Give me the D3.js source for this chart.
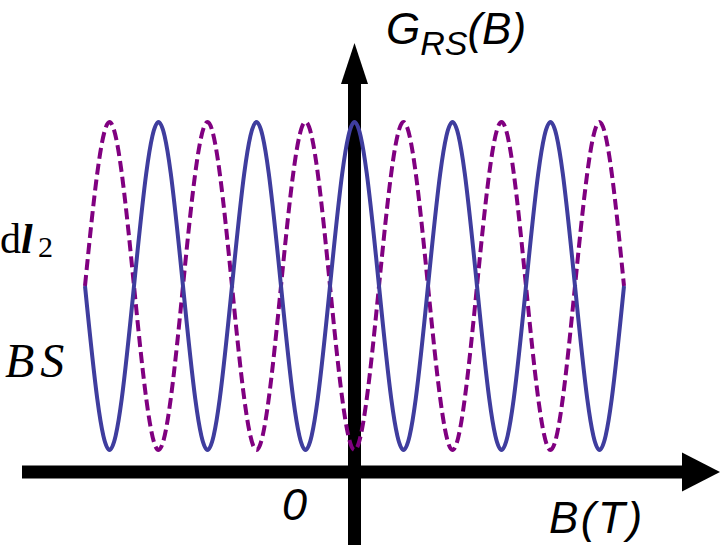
<!DOCTYPE html>
<html>
<head>
<meta charset="utf-8">
<script src="https://cdn.jsdelivr.net/npm/d3@7"></script>
<style>
  html, body { margin: 0; padding: 0; background: #fff; }
  svg { display: block; }
</style>
</head>
<body>
<svg id="chart" width="727" height="545"></svg>
<script>
// Field values B (in oscillation periods) sampled at extrema and zero crossings
const fieldB = [-2.75, -2.5, -2.25, -2, -1.75, -1.5, -1.25, -1, -0.75, -0.5, -0.25, 0,
                0.25, 0.5, 0.75, 1, 1.25, 1.5, 1.75, 2, 2.25, 2.5, 2.75];
// Solid (blue) series, normalised G_RS
const solidG = [0, -1, 0, 1, 0, -1, 0, 1, 0, -1, 0, 1,
                0, -1, 0, 1, 0, -1, 0, 1, 0, -1, 0];
// Dashed (purple) series, normalised G_RS
const dashedG = [0, 1, 0, -1, 0, 1, 0, -1, 0, 1, 0, -1,
                 0, 1, 0, -1, 0, 1, 0, -1, 0, 1, 0];
// Axis labels
const yLabelMain = "G";
const yLabelSub = "RS";
const yLabelTail = "(B)";
const xLabel = "B(T)";
const originLabel = "0";

const svg = d3.select("#chart");

const x = d3.scaleLinear().domain([-2.75, 2.75]).range([85, 624]);
const y = d3.scaleLinear().domain([-1, 1]).range([450, 122]);

const x0 = x(0);
const axisY = 472;

// Horizontal axis with arrow
svg.append("line")
  .attr("x1", 22).attr("x2", 684)
  .attr("y1", axisY).attr("y2", axisY)
  .attr("stroke", "#000").attr("stroke-width", 13);
svg.append("path")
  .attr("d", `M682,${axisY - 19.5} L720,${axisY} L682,${axisY + 19.5} Z`)
  .attr("fill", "#000");

// Vertical axis with arrow
svg.append("line")
  .attr("x1", x0).attr("x2", x0)
  .attr("y1", 545).attr("y2", 82)
  .attr("stroke", "#000").attr("stroke-width", 13);
svg.append("path")
  .attr("d", `M${x0 - 13.5},84 L${x0},43 L${x0 + 13.5},84 Z`)
  .attr("fill", "#000");

const line = d3.line()
  .x(d => x(d[0]))
  .y(d => y(d[1]))
  .curve(d3.curveNatural);

svg.append("path")
  .datum(fieldB.map((b, i) => [b, dashedG[i]]))
  .attr("d", line)
  .attr("fill", "none")
  .attr("stroke", "#800080")
  .attr("stroke-width", 4)
  .attr("stroke-dasharray", "11,5");

svg.append("path")
  .datum(fieldB.map((b, i) => [b, solidG[i]]))
  .attr("d", line)
  .attr("fill", "none")
  .attr("stroke", "#3f3d9e")
  .attr("stroke-width", 4);

// Labels
const sans = "'Liberation Sans', Arial, Helvetica, sans-serif";
const yl = svg.append("text")
  .attr("x", 386).attr("y", 44)
  .attr("font-family", sans).attr("font-style", "italic")
  .attr("font-size", 44).attr("fill", "#000");
yl.append("tspan").text(yLabelMain);
yl.append("tspan").attr("font-size", 34).attr("dy", 11).text(yLabelSub);
yl.append("tspan").attr("dy", -11).text(yLabelTail);

svg.append("text")
  .attr("x", 282).attr("y", 520)
  .attr("font-family", sans).attr("font-style", "italic")
  .attr("font-size", 45).attr("fill", "#000")
  .text(originLabel);

svg.append("text")
  .attr("x", 549).attr("y", 533)
  .attr("font-family", sans).attr("font-style", "italic")
  .attr("font-size", 44).attr("letter-spacing", 2.5).attr("fill", "#000")
  .text(xLabel);

// Text fragments at left edge
const serif = "'Liberation Serif', 'DejaVu Serif', serif";
svg.append("text")
  .attr("x", 0).attr("y", 253)
  .attr("font-family", serif)
  .attr("font-size", 42).attr("fill", "#000")
  .text("d");
svg.append("text")
  .attr("x", 21).attr("y", 253)
  .attr("font-family", serif)
  .attr("font-weight", "bold").attr("font-style", "italic")
  .attr("font-size", 42).attr("fill", "#000")
  .text("l");
svg.append("text")
  .attr("x", 38).attr("y", 257)
  .attr("font-family", serif)
  .attr("font-size", 30).attr("fill", "#000")
  .text("2");

svg.append("text")
  .attr("x", 5).attr("y", 377)
  .attr("font-family", serif)
  .attr("font-style", "italic")
  .attr("font-size", 48).attr("letter-spacing", 6)
  .attr("fill", "#000")
  .text("BS");
</script>
</body>
</html>
